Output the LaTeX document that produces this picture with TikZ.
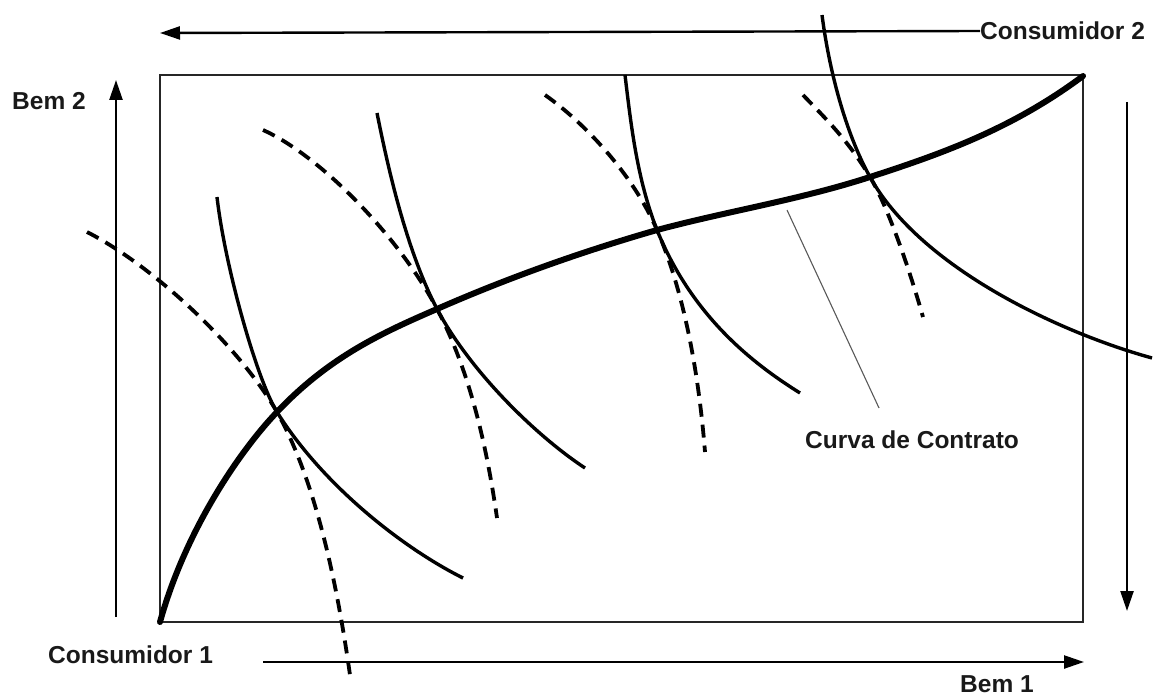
\documentclass[tikz,border=0pt]{standalone}
\usepackage{fontspec}
\setmainfont{Liberation Sans}
\usetikzlibrary{arrows.meta}
\tikzset{
  lbl/.style={font=\bfseries\fontsize{24.5}{28}\selectfont, inner sep=0pt, anchor=west, text=black!90},
  axisarrow/.style={line width=2.4pt, -{Triangle[length=20pt,width=13pt]}},
  frame/.style={line width=2.2pt, draw=black!85},
  contract/.style={line width=6pt, line cap=round},
  indiff/.style={line width=3.4pt},
  dashedindiff/.style={line width=3.8pt, dash pattern=on 13pt off 8pt},
  pointer/.style={line width=1.1pt, draw=black!65}
}
\begin{document}
\begin{tikzpicture}[x=1pt,y=-1pt]
\useasboundingbox (0,0) rectangle (1155,698);
% box
\draw[frame] (160,75) rectangle (1083,622);
% labels
\node[lbl] (c2) at (980,31) {Consumidor 2};
\node[lbl] (b2) at (12,101) {Bem 2};
\node[lbl] (c1) at (48,655) {Consumidor 1};
\node[lbl] (b1) at (960,684) {Bem 1};
\node[lbl] (cc) at (805,440) {Curva de Contrato};
% arrow end points
\coordinate (c2head) at (160,33);
\coordinate (b2tail) at (116,617);
\coordinate (b2head) at (116,80);
\coordinate (b1tail) at (263,662);
\coordinate (b1head) at (1084,662);
\coordinate (rtail) at (1127,102);
\coordinate (rhead) at (1127,611);
\draw[axisarrow] (c2.west) -- (c2head);
\draw[axisarrow] (b2tail) -- (b2head);
\draw[axisarrow] (b1tail) -- (b1head);
\draw[axisarrow] (rtail) -- (rhead);
% tangency points on the contract curve
\coordinate (o1) at (160,622);
\coordinate (p1) at (277,412);
\coordinate (p2) at (437,309);
\coordinate (p3) at (657,230);
\coordinate (p4) at (870,177);
\coordinate (o2) at (1083,76);
% indifference curves (consumer 1, solid)
\draw[indiff] (217,197) .. controls (225,267) and (257,380) .. (p1)
              .. controls (322,484) and (401,547) .. (463,578);
\draw[indiff] (377,113) .. controls (389,173) and (407,251) .. (p2)
              .. controls (470,371) and (535,435) .. (585,468);
\draw[indiff] (625,75) .. controls (631,125) and (637,179) .. (p3)
              .. controls (692,316) and (752,363) .. (800,393);
\draw[indiff] (822,15) .. controls (829,69) and (845,132) .. (p4)
              .. controls (920,267) and (1058,332) .. (1152,358);
% indifference curves (consumer 2, dashed)
\draw[dashedindiff] (87,232) .. controls (150,264) and (237,343) .. (p1)
              .. controls (317,483) and (338,590) .. (350,675);
\draw[dashedindiff] (263,130) .. controls (321,156) and (400,238) .. (p2)
              .. controls (470,371) and (487,448) .. (497,518);
\draw[dashedindiff] (545,95) .. controls (582,121) and (632,172) .. (p3)
              .. controls (685,294) and (699,377) .. (705,452);
\draw[dashedindiff] (803,95) .. controls (825,118) and (848,140) .. (p4)
              .. controls (888,207) and (909,268) .. (923,317);
% contract curve
\draw[contract] (o1) .. controls (185,532) and (238,453) .. (p1)
   .. controls (330,356) and (384,332) .. (p2)
   .. controls (510,277) and (584,251) .. (p3)
   .. controls (728,211) and (799,200) .. (p4)
   .. controls (941,154) and (1012,129) .. (o2);
% pointer
\coordinate (ptrA) at (787,210);
\coordinate (ptrB) at (879,408);
\draw[pointer] (ptrA) -- (ptrB);
\end{tikzpicture}
\end{document}
